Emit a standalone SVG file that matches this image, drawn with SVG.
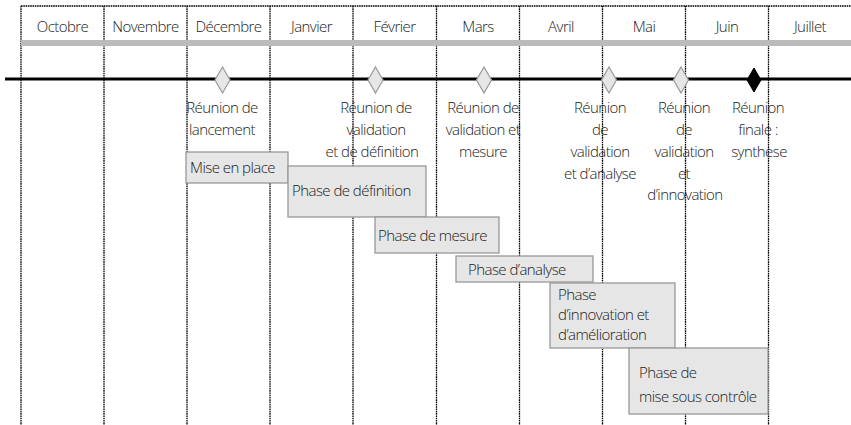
<svg xmlns="http://www.w3.org/2000/svg" width="851" height="425" viewBox="0 0 851 425">
  <style>
    text { font-family: "Open Sans", "Lato", "Liberation Sans", sans-serif; font-weight: 300; font-size: 15px; letter-spacing: -0.55px; fill: #1a1a1a; }
    .mid { text-anchor: middle; }
    .grid { stroke: #000; stroke-width: 1.3; stroke-dasharray: 1.6 0.7; fill: none; }
    .box { fill: #e6e6e6; stroke: #999; stroke-width: 1.3; }
    .ms { fill: #e6e6e6; stroke: #999; stroke-width: 1.2; }
    .ms-final { fill: #000; stroke: #000; stroke-width: 1; }
  </style>

  <rect width="851" height="425" fill="#fff"/>

  <!-- month header and column grid -->
  <g id="grid">
    <line class="grid" x1="21" y1="6" x2="851" y2="6"/>
    <line class="grid" x1="21" y1="6" x2="21" y2="425" stroke="#666"/>
    <line class="grid" x1="104" y1="6" x2="104" y2="425"/>
    <line class="grid" x1="187" y1="6" x2="187" y2="425"/>
    <line class="grid" x1="270" y1="6" x2="270" y2="425"/>
    <line class="grid" x1="353" y1="6" x2="353" y2="425"/>
    <line class="grid" x1="436.5" y1="6" x2="436.5" y2="425"/>
    <line class="grid" x1="519.5" y1="6" x2="519.5" y2="425"/>
    <line class="grid" x1="602.5" y1="6" x2="602.5" y2="425"/>
    <line class="grid" x1="685.5" y1="6" x2="685.5" y2="425"/>
    <line class="grid" x1="768.5" y1="6" x2="768.5" y2="425"/>
    <rect x="21" y="40" width="830" height="6" fill="#bbbbbb"/>
  </g>

  <g id="months">
    <text class="mid" x="62.5" y="32">Octobre</text>
    <text class="mid" x="145.5" y="32">Novembre</text>
    <text class="mid" x="228.5" y="32">Décembre</text>
    <text class="mid" x="311.5" y="32">Janvier</text>
    <text class="mid" x="394.5" y="32">Février</text>
    <text class="mid" x="478" y="32">Mars</text>
    <text class="mid" x="561" y="32">Avril</text>
    <text class="mid" x="644" y="32">Mai</text>
    <text class="mid" x="727" y="32">Juin</text>
    <text class="mid" x="810" y="32">Juillet</text>
  </g>

  <!-- timeline axis -->
  <g id="connectors">
    <line x1="5" y1="79" x2="851" y2="79" stroke="#000" stroke-width="3.2"/>
  </g>

  <!-- milestones -->
  <g id="m1">
    <polygon class="ms" points="222.5,67 230,80 222.5,93 215,80"/>
    <text class="mid" x="222" y="113">Réunion de</text>
    <text class="mid" x="222" y="135">lancement</text>
  </g>
  <g id="m2">
    <polygon class="ms" points="375.5,67 383,80 375.5,93 368,80"/>
    <text class="mid" x="376" y="113">Réunion de</text>
    <text class="mid" x="376" y="135">validation</text>
    <text class="mid" x="372" y="157">et de définition</text>
  </g>
  <g id="m3">
    <polygon class="ms" points="484,67 491.5,80 484,93 476.5,80"/>
    <text class="mid" x="483" y="113">Réunion de</text>
    <text class="mid" x="483" y="135">validation et</text>
    <text class="mid" x="483" y="157">mesure</text>
  </g>
  <g id="m4">
    <polygon class="ms" points="609,67 616.5,80 609,93 601.5,80"/>
    <text class="mid" x="600" y="113">Réunion</text>
    <text class="mid" x="600" y="135">de</text>
    <text class="mid" x="600" y="157">validation</text>
    <text class="mid" x="600" y="179">et d’analyse</text>
  </g>
  <g id="m5">
    <polygon class="ms" points="681,67 688.5,80 681,93 673.5,80"/>
    <text class="mid" x="684" y="113">Réunion</text>
    <text class="mid" x="684" y="135">de</text>
    <text class="mid" x="684" y="157">validation</text>
    <text class="mid" x="684" y="179">et</text>
    <text class="mid" x="685" y="200">d’innovation</text>
  </g>
  <g id="m6">
    <polygon class="ms-final" points="754,68 761,80 754,92 747,80"/>
    <text class="mid" x="758" y="113">Réunion</text>
    <text class="mid" x="758" y="135">finale :</text>
    <text class="mid" x="759" y="157">synthese</text>
  </g>

  <!-- phases -->
  <g id="p1">
    <rect class="box" x="186" y="152" width="102" height="31"/>
    <text x="190" y="173">Mise en place</text>
  </g>
  <g id="p2">
    <rect class="box" x="288" y="166" width="138" height="51"/>
    <text x="292" y="196">Phase de définition</text>
  </g>
  <g id="p3">
    <rect class="box" x="375" y="217" width="124" height="36"/>
    <text x="378" y="241">Phase de mesure</text>
  </g>
  <g id="p4">
    <rect class="box" x="456" y="256" width="137" height="26"/>
    <text x="468" y="275">Phase d’analyse</text>
  </g>
  <g id="p5">
    <rect class="box" x="550" y="283" width="125" height="65"/>
    <text x="558" y="300">Phase</text>
    <text x="558" y="320">d’innovation et</text>
    <text x="558" y="340">d’amélioration</text>
  </g>
  <g id="p6">
    <rect class="box" x="629" y="348" width="139" height="66"/>
    <text x="639" y="378">Phase de</text>
    <text x="639" y="402">mise sous contrôle</text>
  </g>
</svg>
